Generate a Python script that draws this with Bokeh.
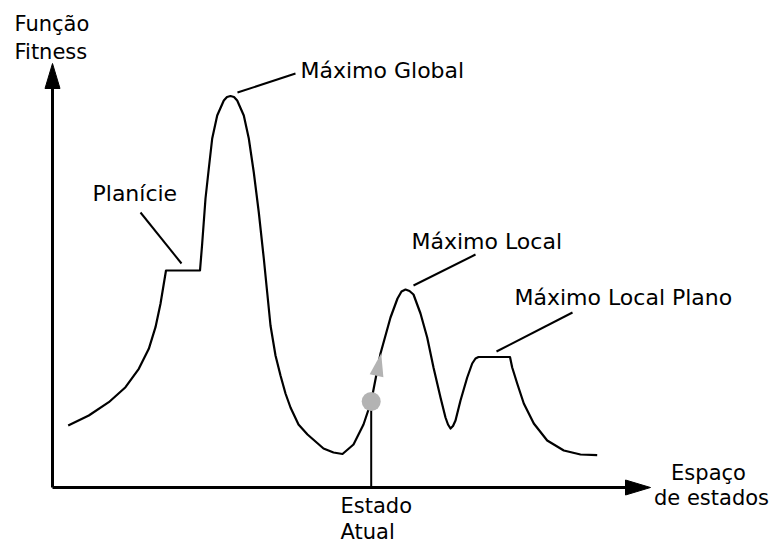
from bokeh.plotting import figure
from bokeh.models import Range1d
from bokeh.core.properties import value
from bokeh.embed import file_html
from bokeh.resources import INLINE
import math

# ---- data (state space vs fitness, origin at the axes' crossing) ----
state = [15.7, 36.3, 56.3, 73, 86.3, 96.3, 103, 108, 111.3, 113.5, 147.5, 149.7, 153,
         156.3, 159.7, 164.7, 171.3, 174.5, 178, 181.5, 184.7, 191.3, 196.3, 201.3,
         206.3, 211.3, 214.7, 218, 223, 228, 233, 238, 246, 255, 271, 281, 290, 301,
         311, 318.7, 328, 338, 345, 349, 353, 357, 361, 368, 374.7, 381, 388, 393,
         395.5, 398, 400.5, 403, 408, 414.7, 419.7, 423, 426, 457.5, 459.7, 464.7,
         471.3, 481.3, 494.7, 511.3, 528, 544.7]
fitness = [62, 72, 85.3, 100.3, 118.7, 138.7, 160.3, 183.7, 203.7, 217, 217, 244, 289,
           319, 349, 372, 387, 390.5, 391.5, 390.5, 387, 372, 349, 315, 275, 229, 195,
           162, 132, 112, 94, 80, 63, 53, 39, 35, 33.5, 43, 63, 86, 134, 170, 189,
           196, 198, 196.5, 193, 174, 150, 120, 90, 70, 63, 59, 61.5, 67, 87, 110, 124,
           129, 130.5, 130.5, 120, 104, 84, 64, 47, 37, 33, 32.3]

axis_x_end = 598          # state-space axis length
axis_y_end = 424          # fitness axis length

current_state = [318.7]
current_fitness = [86]
climb_to = [328.7, 134.3]  # direction of the next step (arrow tip)

label_names = ["Planície", "Máximo Global", "Máximo Local", "Máximo Local Plano"]
label_x = [40, 248, 359, 462]
label_y = [294, 417, 246, 190]
leader_x0 = [88, 185, 361, 444]
leader_y0 = [275, 395, 202, 136]
leader_x1 = [129, 243, 423, 520]
leader_y1 = [224, 414, 233, 175]

y_title = ["Função", "Fitness"]
x_title = ["Espaço", "de estados"]
state_title = ["Estado", "Atual"]

# ---- figure ----
p = figure(width=772, height=543, output_backend="svg", toolbar_location=None,
           x_range=Range1d(-52, 720), y_range=Range1d(-56, 487),
           min_border=0)
p.axis.visible = False
p.grid.visible = False
p.outline_line_color = None
p.background_fill_color = "white"
p.border_fill_color = "white"

FONT = value("DejaVu Sans")
FS = value("21px")
FS_L = value("22px")

# axes with arrowheads
HL, HW = 25, 15
p.segment(x0=[0, 0], y0=[0, 0], x1=[0, axis_x_end - HL + 2], y1=[axis_y_end - HL + 2, 0],
          line_color="black", line_width=3)
p.patches(xs=[[-HW / 2, HW / 2, 0], [axis_x_end - HL, axis_x_end - HL, axis_x_end]],
          ys=[[axis_y_end - HL, axis_y_end - HL, axis_y_end], [HW / 2, -HW / 2, 0]],
          fill_color="black", line_color="black", line_width=1)

# fitness landscape
p.line(state, fitness, line_color="black", line_width=2.2, line_join="round")

# current state marker and vertical line
p.segment(x0=current_state, y0=[0], x1=current_state, y1=current_fitness,
          line_color="black", line_width=2)
p.scatter(current_state, current_fitness, size=19, fill_color="#b3b3b3",
          line_color=None)

# climbing arrow (grey triangle)
tx, ty = climb_to
dx, dy = tx - current_state[0], ty - current_fitness[0]
L = math.hypot(dx, dy)
ux, uy = dx / L, dy / L
AL, AW = 23, 14
bx, by = tx - ux * AL, ty - uy * AL
p.patch(x=[tx, bx - uy * AW / 2, bx + uy * AW / 2],
        y=[ty, by + ux * AW / 2, by - ux * AW / 2],
        fill_color="#b3b3b3", line_color=None)

# leader lines and labels
p.segment(x0=leader_x0, y0=leader_y0, x1=leader_x1, y1=leader_y1,
          line_color="black", line_width=2)
p.text(x=label_x, y=label_y, text=label_names, text_font=FONT, text_font_size=FS_L,
       text_align="left", text_baseline="alphabetic", text_color="black")

p.text(x=[-38, -38], y=[464, 436], text=y_title, text_font=FONT, text_font_size=FS,
       text_align="left", text_baseline="alphabetic", text_color="black")
p.text(x=[656, 659], y=[15, -10], text=x_title, text_font=FONT, text_font_size=FS,
       text_align="center", text_baseline="alphabetic", text_color="black")
p.text(x=[288, 288], y=[-18, -44], text=state_title, text_font=FONT, text_font_size=FS,
       text_align="left", text_baseline="alphabetic", text_color="black")

open("out.html", "w").write(file_html(p, INLINE))
